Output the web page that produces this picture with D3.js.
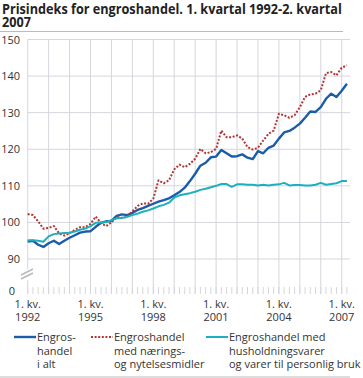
<!doctype html>
<html>
<head>
	<meta charset="utf-8">
	<title>Prisindeks for engroshandel</title>
	<style>
		body { margin: 0; background: #fff; }
		svg { display: block; font-family: "Open Sans", sans-serif; }
		.grid line { stroke: #d5d6dc; stroke-width: 1; }
		.tick-label { fill: #333; font-size: 11px; }
		.legend-text { fill: #333; font-size: 11px; }
		.series { fill: none; stroke-linejoin: round; }
	</style>
</head>
<body>
	<svg width="363" height="378"></svg>

	<script src="https://d3js.org/d3.v7.min.js"></script>
	<script>

		// quarterly values, 1. kv. 1992 - 2. kv. 2007
		const totalIndex = [
			94.8, 95.0, 93.9, 93.3, 94.3, 95.0, 94.1, 95.0,
			95.8, 96.5, 97.2, 97.5, 97.6, 98.8, 99.9, 100.3,
			100.4, 101.8, 102.2, 102.0, 102.6, 103.4, 103.9, 104.5,
			105.1, 105.7, 106.1, 106.6, 107.4, 108.3, 109.5, 111.3,
			113.3, 115.5, 116.3, 117.8, 118.0, 119.8, 118.9, 118.0,
			118.1, 118.6, 117.7, 117.3, 119.5, 118.9, 120.4, 121.0,
			122.9, 124.6, 125.0, 125.9, 127.0, 128.6, 130.3, 130.2,
			131.5, 133.8, 135.2, 134.3, 136.0, 137.9
		];

		const foodIndex = [
			102.3, 102.0, 100.3, 98.3, 98.5, 99.0, 97.0, 96.4,
			97.0, 98.0, 98.7, 98.7, 99.6, 101.6, 99.8, 99.0,
			100.0, 101.5, 101.2, 101.5, 103.0, 104.5, 105.2, 105.1,
			106.5, 111.5, 110.7, 111.5, 114.5, 115.8, 115.1, 116.0,
			117.4, 120.1, 118.9, 119.2, 120.1, 125.1, 123.3, 123.3,
			123.8, 122.9, 120.6, 119.9, 120.4, 122.4, 124.2, 125.1,
			129.7, 129.3, 128.6, 129.3, 131.5, 134.3, 135.0, 135.2,
			136.1, 140.8, 141.1, 140.2, 142.3, 142.9
		];

		const householdIndex = [
			95.1, 95.1, 95.0, 94.7, 96.2, 96.8, 97.0, 97.1,
			97.2, 97.5, 98.0, 98.3, 99.0, 99.9, 100.0, 100.1,
			100.6, 101.1, 101.3, 101.5, 102.0, 102.4, 102.9, 103.3,
			103.8, 104.4, 104.8, 105.4, 106.8, 107.4, 107.7, 108.0,
			108.4, 108.9, 109.2, 109.6, 110.0, 110.5, 110.5, 109.7,
			110.4, 110.4, 110.3, 110.3, 110.1, 110.3, 110.1, 110.3,
			110.4, 110.8, 110.1, 110.2, 110.2, 110.1, 110.1, 110.3,
			110.8, 110.3, 110.5, 110.7, 111.3, 111.3
		];

		const startYear = 1992;
		const labelYears = [ 1992, 1995, 1998, 2001, 2004, 2007 ];
		const yTicks = [ 0, 90, 100, 110, 120, 130, 140, 150 ];
		const gridValues = [ 90, 100, 110, 120, 130, 140, 150 ];
		const titleLines = [ "Prisindeks for engroshandel. 1. kvartal 1992-2. kvartal", "2007" ];

		const series = [
			{ name: [ "Engros-", "handel", "i alt" ], values: totalIndex, color: "#1a5ca8", width: 2.4, dash: null },
			{ name: [ "Engroshandel", "med nærings-", "og nytelsesmidler" ], values: foodIndex, color: "#b33434", width: 2, dash: "2,1.6" },
			{ name: [ "Engroshandel med", "husholdningsvarer", "og varer til personlig bruk" ], values: householdIndex, color: "#1cb0be", width: 2, dash: null }
		];

		const svg = d3.select( "svg" );
		const plotLeft = 27.7, plotRight = 350, plotTop = 39.5;

		const x = d3.scaleLinear()
				.domain( [ 0, 60 ] )
				.range( [ plotLeft, 341.7 ] );

		// broken axis: 0 sits below 90 with a cut between
		const y = d3.scaleLinear()
				.domain( [ 0, 90, 150 ] )
				.range( [ 290.5, 259, plotTop ] );

		// title - the original face is condensed, so squeeze horizontally
		const titleWidth = 340;
		let squeeze = 1;
		svg.selectAll( ".title" )
			.data( titleLines )
			.enter().append( "text" )
				.attr( "class", "title" )
				.attr( "x", 0 )
				.attr( "y", 0 )
				.style( "font-weight", "bold" )
				.style( "font-size", "14px" )
				.attr( "fill", "#222" )
				.text( d => d )
				.each( function( d, i ) {
					if ( i === 0 )
						squeeze = titleWidth / this.getComputedTextLength();
				})
				.attr( "transform", ( d, i ) => "translate(2," + ( 13.5 + i * 13 ) + ") scale(" + squeeze + ",1)" );

		svg.append( "line" )
				.attr( "x1", 0 ).attr( "x2", 343 )
				.attr( "y1", 31.5 ).attr( "y2", 31.5 )
				.attr( "stroke", "#bbb" );

		const grid = svg.append( "g" ).attr( "class", "grid" );

		// horizontal grid
		grid.selectAll( ".h" )
			.data( gridValues )
			.enter().append( "line" )
				.attr( "x1", plotLeft )
				.attr( "x2", plotRight )
				.attr( "y1", d => y( d ) )
				.attr( "y2", d => y( d ) );

		// yearly vertical grid
		const years = d3.range( 0, 16 );
		grid.selectAll( ".v" )
			.data( years )
			.enter().append( "line" )
				.attr( "x1", d => x( d * 4 ) )
				.attr( "x2", d => x( d * 4 ) )
				.attr( "y1", plotTop )
				.attr( "y2", 294 );

		// quarter ticks
		grid.selectAll( ".q" )
			.data( d3.range( 0, 62 ) )
			.enter().append( "line" )
				.attr( "x1", d => x( d ) )
				.attr( "x2", d => x( d ) )
				.attr( "y1", 287 )
				.attr( "y2", 294 );

		// axis break
		svg.append( "rect" )
				.attr( "x", plotLeft - 2 ).attr( "y", 269 )
				.attr( "width", 4 ).attr( "height", 11 )
				.attr( "fill", "#fff" );
		[ 0, 4 ].forEach( off => {
			svg.append( "line" )
				.attr( "x1", 21 ).attr( "y1", 275 + off )
				.attr( "x2", 33 ).attr( "y2", 269 + off )
				.attr( "stroke", "#b8b9bf" )
				.attr( "stroke-width", 1.4 );
		});

		// y labels
		svg.selectAll( ".ylab" )
			.data( yTicks )
			.enter().append( "text" )
				.attr( "class", "tick-label" )
				.attr( "x", d => d === 0 ? 15 : 20 )
				.attr( "y", d => y( d ) + 4 )
				.attr( "text-anchor", "end" )
				.text( d => String( d ) );

		// x labels, two rows
		svg.selectAll( ".xlab1" )
			.data( labelYears )
			.enter().append( "text" )
				.attr( "class", "tick-label" )
				.attr( "text-anchor", "middle" )
				.attr( "x", d => x( ( d - startYear ) * 4 ) )
				.attr( "y", 307.5 )
				.text( "1. kv." );

		svg.selectAll( ".xlab2" )
			.data( labelYears )
			.enter().append( "text" )
				.attr( "class", "tick-label" )
				.attr( "text-anchor", "middle" )
				.attr( "x", d => x( ( d - startYear ) * 4 ) )
				.attr( "y", 320.5 )
				.text( d => d );

		// lines
		const line = d3.line()
				.x( ( d, i ) => x( i ) )
				.y( d => y( d ) );

		svg.selectAll( ".series" )
			.data( series )
			.enter().append( "path" )
				.attr( "class", "series" )
				.attr( "d", d => line( d.values ) )
				.attr( "stroke", d => d.color )
				.attr( "stroke-width", d => d.width )
				.attr( "stroke-dasharray", d => d.dash );

		// legend
		const legendX = [ 14, 91, 206 ];
		const legend = svg.selectAll( ".legend" )
			.data( series )
			.enter().append( "g" )
				.attr( "transform", ( d, i ) => "translate(" + legendX[ i ] + ",0)" );

		legend.append( "line" )
				.attr( "x1", 0 ).attr( "x2", 22 )
				.attr( "y1", 337 ).attr( "y2", 337 )
				.attr( "stroke", d => d.color )
				.attr( "stroke-width", d => d.width )
				.attr( "stroke-dasharray", d => d.dash );

		legend.selectAll( "text" )
			.data( d => d.name )
			.enter().append( "text" )
				.attr( "class", "legend-text" )
				.attr( "x", 23 )
				.attr( "y", ( d, i ) => 341 + i * 13.5 )
				.text( d => d );

		svg.append( "line" )
				.attr( "x1", 0 ).attr( "x2", 350 )
				.attr( "y1", 377 ).attr( "y2", 377 )
				.attr( "stroke", "#bbb" );

	</script>
</body>
</html>
